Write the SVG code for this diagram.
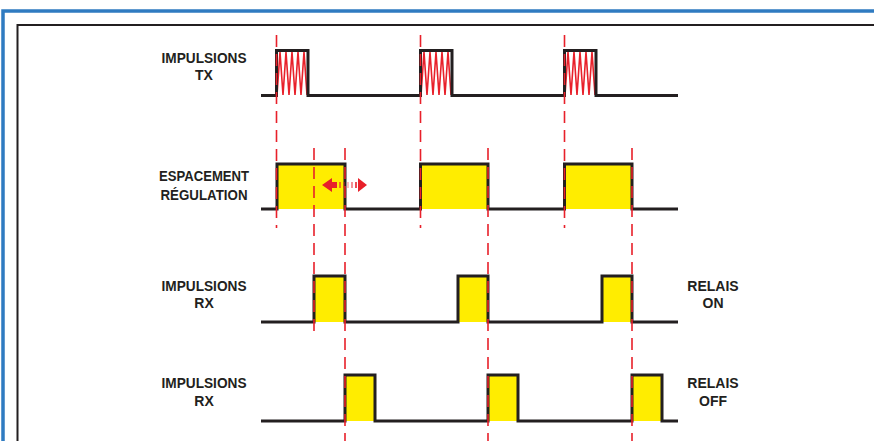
<svg xmlns="http://www.w3.org/2000/svg" width="874" height="441" viewBox="0 0 874 441">
<style>
.wave{fill:none;stroke:#231f20;stroke-width:3;stroke-linejoin:miter}
.fill{fill:#ffed00;stroke:none}
.dash{stroke:#e8202a;stroke-width:1.6;stroke-dasharray:12 7;fill:none}
.zig{fill:none;stroke:#e8202a;stroke-width:1.6}
.lbl{font-family:"Liberation Sans Narrow","Liberation Sans",Arial,sans-serif;font-weight:bold;font-size:14px;fill:#231f20;text-anchor:middle}
</style>
<rect width="874" height="441" fill="#fff"/>
<g id="frame">
<path d="M3,441 V11 H874" fill="none" stroke="#2f7bc1" stroke-width="3.5"/>
<path d="M17.5,441 V25 H874" fill="none" stroke="#231f20" stroke-width="2"/>
</g>
<g id="labels">
<text class="lbl" x="204" y="63" textLength="85" lengthAdjust="spacingAndGlyphs">IMPULSIONS</text>
<text class="lbl" x="204" y="80">TX</text>
<text class="lbl" x="204" y="181" textLength="90" lengthAdjust="spacingAndGlyphs">ESPACEMENT</text>
<text class="lbl" x="204" y="200" textLength="87" lengthAdjust="spacingAndGlyphs">RÉGULATION</text>
<text class="lbl" x="204" y="291" textLength="85" lengthAdjust="spacingAndGlyphs">IMPULSIONS</text>
<text class="lbl" x="204" y="308">RX</text>
<text class="lbl" x="713" y="291">RELAIS</text>
<text class="lbl" x="713" y="308">ON</text>
<text class="lbl" x="204" y="388" textLength="85" lengthAdjust="spacingAndGlyphs">IMPULSIONS</text>
<text class="lbl" x="204" y="406">RX</text>
<text class="lbl" x="713" y="388">RELAIS</text>
<text class="lbl" x="713" y="406">OFF</text>
</g>
<g id="tx">
<path class="zig" d="M277,95 L280,52 L283,95 L286,52 L289,95 L292,52 L295,95 L298,52 L301,95 L304,52 L307,95"/>
<path class="zig" d="M421,95 L424,52 L427,95 L430,52 L433,95 L436,52 L439,95 L442,52 L445,95 L448,52 L451,95"/>
<path class="zig" d="M565,95 L568,52 L571,95 L574,52 L577,95 L580,52 L583,95 L586,52 L589,95 L592,52 L595,95"/>
<path class="wave" d="M261,95.5 H276.5 V50.5 H308 V95.5 H420.5 V50.5 H452 V95.5 H564.5 V50.5 H596 V95.5 H678"/>
</g>
<g id="espacement">
<rect class="fill" x="277" y="164" width="68" height="45"/>
<rect class="fill" x="421" y="164" width="67" height="45"/>
<rect class="fill" x="565" y="164" width="67" height="45"/>
<path class="wave" d="M261,209 H277 V164 H345 V209 H420.5 V164 H488 V209 H564.5 V164 H632 V209 H678"/>
</g>
<g id="rx-on">
<rect class="fill" x="314" y="276" width="31" height="46"/>
<rect class="fill" x="458" y="276" width="30" height="46"/>
<rect class="fill" x="602" y="276" width="30" height="46"/>
<path class="wave" d="M261,322 H314 V276 H345 V322 H458 V276 H488 V322 H602 V276 H632 V322 H678"/>
</g>
<g id="rx-off">
<rect class="fill" x="345" y="375" width="30" height="46"/>
<rect class="fill" x="488" y="375" width="30" height="46"/>
<rect class="fill" x="632" y="375" width="30" height="46"/>
<path class="wave" d="M261,421 H345 V375 H375 V421 H488 V375 H518 V421 H632 V375 H662 V421 H678"/>
</g>
<g id="connectors">
<line class="dash" x1="276.5" y1="35" x2="276.5" y2="228"/>
<line class="dash" x1="420.5" y1="35" x2="420.5" y2="228"/>
<line class="dash" x1="564.5" y1="35" x2="564.5" y2="228"/>
<line class="dash" x1="314" y1="148" x2="314" y2="338"/>
<line class="dash" x1="345" y1="148" x2="345" y2="441"/>
<line class="dash" x1="488" y1="148" x2="488" y2="441"/>
<line class="dash" x1="632" y1="148" x2="632" y2="441"/>
</g>
<g id="arrow">
<polygon points="322,185 332,178 332,182 337,182 337,188 332,188 332,192" fill="#e8202a"/>
<rect x="339" y="182" width="2" height="6" fill="#e8202a" opacity="0.6"/>
<rect x="343" y="182" width="2" height="6" fill="#e8202a" opacity="0.4"/>
<rect x="347" y="182" width="2" height="6" fill="#e8202a" opacity="0.3"/>
<rect x="351" y="182" width="2" height="6" fill="#e8202a" opacity="0.5"/>
<rect x="355" y="182" width="2" height="6" fill="#e8202a" opacity="0.8"/>
<polygon points="367,185 358,178 358,192" fill="#e8202a"/>
</g>
</svg>
